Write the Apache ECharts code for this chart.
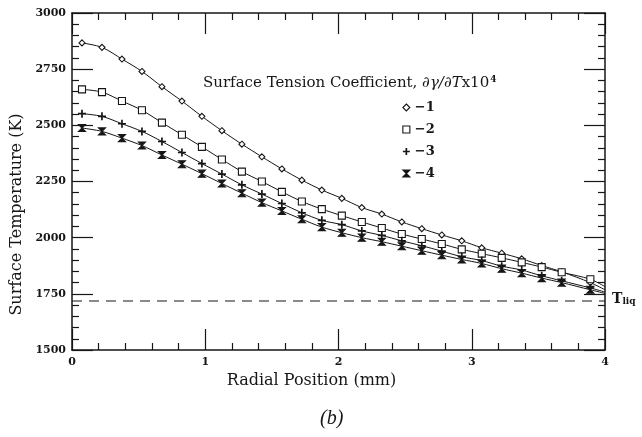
<!DOCTYPE html>
<html>
<head>
<meta charset="utf-8">
<script src="https://cdn.jsdelivr.net/npm/echarts@6/dist/echarts.min.js"></script>
<style>
  html, body { margin: 0; padding: 0; background: #fff; }
  #chart { width: 642px; height: 437px; }
</style>
</head>
<body>
<div id="chart"></div>
<script>
// radial positions of the computed points (mm)
var xPos = [0.075, 0.225, 0.375, 0.525, 0.675, 0.825, 0.975, 1.125, 1.275, 1.425,
            1.575, 1.725, 1.875, 2.025, 2.175, 2.325, 2.475, 2.625, 2.775, 2.925,
            3.075, 3.225, 3.375, 3.525, 3.675, 3.89, 4.0];

// surface temperature (K) for each surface tension coefficient
var tempM1 = [2867, 2847, 2795, 2740, 2672, 2608, 2540, 2476, 2416, 2360,
              2306, 2256, 2212, 2175, 2134, 2105, 2070, 2040, 2012, 1986,
              1955, 1931, 1906, 1876, 1848, 1800, 1768];
var tempM2 = [2660, 2648, 2608, 2567, 2512, 2458, 2404, 2348, 2294, 2250,
              2204, 2161, 2127, 2098, 2070, 2043, 2016, 1994, 1972, 1948,
              1929, 1910, 1890, 1869, 1846, 1815, 1782];
var tempM3 = [2552, 2540, 2507, 2473, 2428, 2379, 2330, 2283, 2235, 2194,
              2152, 2111, 2077, 2058, 2030, 2010, 1986, 1964, 1940, 1915,
              1898, 1873, 1856, 1830, 1808, 1776, 1758];
var tempM4 = [2488, 2473, 2443, 2410, 2368, 2327, 2285, 2241, 2198, 2156,
              2119, 2082, 2047, 2022, 2000, 1982, 1962, 1942, 1922, 1903,
              1885, 1862, 1842, 1820, 1800, 1768, 1752];

var seriesNames = ['\u22121', '\u22122', '\u22123', '\u22124'];
var tLiq = 1718;
var xTicks = [0, 1, 2, 3, 4];
var yTicks = [1500, 1750, 2000, 2250, 2500, 2750, 3000];

var FONT = 'DejaVu Serif';
var INK = '#161616';

var SYM_PLUS = 'path://M5,0L5,10M0,5L10,5';
var SYM_STAR = 'path://M0,0L10,0L0,10L10,10Z';
var symbols = ['diamond', 'rect', SYM_PLUS, SYM_STAR];
var symSizes = [6, 7, 8, 7];
var fills = ['#fff', '#fff', INK, INK];
var borders = [1.1, 1.1, 1.7, 1.1];

function pairs(ys){
    return xPos.map(function(x, i){
        var p = {value: [x, ys[i]]};
        if (i === xPos.length - 1) p.symbol = 'none';   // line runs to the edge, no marker
        return p;
    });
}

function axisCommon(show){
    return {
        type: 'value',
        axisLine: {show: true, onZero: false, lineStyle: {color: INK, width: 1.5}},
        axisTick: {show: true, inside: true, length: 21, lineStyle: {color: INK, width: 1.2}},
        minorTick: {show: true, splitNumber: 5, length: 7, lineStyle: {color: INK, width: 1.2}},
        splitLine: {show: false},
        minorSplitLine: {show: false},
        axisLabel: {show: show, color: INK, fontFamily: FONT, fontSize: 11, fontWeight: 'bold',
                    formatter: function(v){ return String(v); }}
    };
}

var chart = echarts.init(document.getElementById('chart'), null, {renderer: 'canvas'});

var xBottom = Object.assign(axisCommon(true), {
    position: 'bottom', min: xTicks[0], max: xTicks[xTicks.length - 1], interval: 1,
    name: 'Radial Position (mm)', nameLocation: 'middle', nameGap: 23,
    nameTextStyle: {color: INK, fontFamily: FONT, fontSize: 16, padding: [0, 54, 0, 0]}
});
xBottom.axisLabel.margin = 7;
var xTop = Object.assign(axisCommon(false), {
    position: 'top', min: xTicks[0], max: xTicks[xTicks.length - 1], interval: 1
});
var yLeft = Object.assign(axisCommon(true), {
    position: 'left', min: yTicks[0], max: yTicks[yTicks.length - 1], interval: 250,
    name: 'Surface Temperature (K)', nameLocation: 'middle', nameGap: 44,
    nameTextStyle: {color: INK, fontFamily: FONT, fontSize: 16, padding: [0, 66, 0, 0]}
});
yLeft.axisLabel.margin = 6;
var yRight = Object.assign(axisCommon(false), {
    position: 'right', min: yTicks[0], max: yTicks[yTicks.length - 1], interval: 250
});

var series = [tempM1, tempM2, tempM3, tempM4].map(function(ys, k){
    return {
        name: seriesNames[k],
        type: 'line',
        smooth: 0.3,
        data: pairs(ys),
        symbol: symbols[k],
        symbolSize: symSizes[k],
        showAllSymbol: true,
        lineStyle: {color: INK, width: 1},
        itemStyle: {color: fills[k], borderColor: INK, borderWidth: borders[k]},
        z: 3 + k,
        animation: false
    };
});

// liquidus temperature, dashed
series.push({
    name: 'Tliq',
    type: 'line',
    data: [[0, tLiq], [4, tLiq]],
    symbol: 'none',
    lineStyle: {color: INK, width: 1.2, type: [10, 7]},
    silent: true,
    animation: false
});

chart.setOption({
    backgroundColor: '#fff',
    animation: false,
    grid: {left: 72, right: 37, top: 13, bottom: 87},
    xAxis: [xBottom, xTop],
    yAxis: [yLeft, yRight],
    legend: {
        data: seriesNames.map(function(n, k){
            return {name: n, icon: symbols[k],
                    itemStyle: {color: fills[k], borderColor: INK, borderWidth: borders[k]}};
        }),
        orient: 'vertical',
        left: 397,
        top: 96,
        itemWidth: 7,
        itemHeight: 7,
        itemGap: 9,
        textStyle: {color: INK, fontFamily: FONT, fontSize: 13, fontWeight: 'bold'}
    },
    title: {
        text: '{a|Surface Tension Coefficient, }{b|\u2202\u03b3/\u2202T}{a|x10}{s|4}',
        left: 198,
        top: 70,
        textStyle: {
            fontWeight: 'normal',
            rich: {
                a: {fontFamily: FONT, fontSize: 15, fontWeight: 'normal', color: INK},
                b: {fontFamily: FONT, fontSize: 15, fontWeight: 'normal', color: INK, fontStyle: 'italic'},
                s: {fontFamily: FONT, fontSize: 9, fontWeight: 'bold', color: INK, verticalAlign: 'top', padding: [0, 0, 7, 1]}
            }
        }
    },
    graphic: [
        {
            type: 'text', left: 612, top: 292,
            style: {
                text: '{t|T}{s|liq}',
                rich: {
                    t: {fontFamily: FONT, fontSize: 14, fontWeight: 'bold', fill: INK},
                    s: {fontFamily: FONT, fontSize: 9, fontWeight: 'bold', fill: INK, padding: [6, 0, 0, 0]}
                }
            }
        },
        {
            type: 'text', left: 320, top: 409,
            style: {
                text: '(b)',
                font: 'italic 20px "Liberation Serif"', fill: INK
            }
        }
    ],
    series: series
});
</script>
</body>
</html>
